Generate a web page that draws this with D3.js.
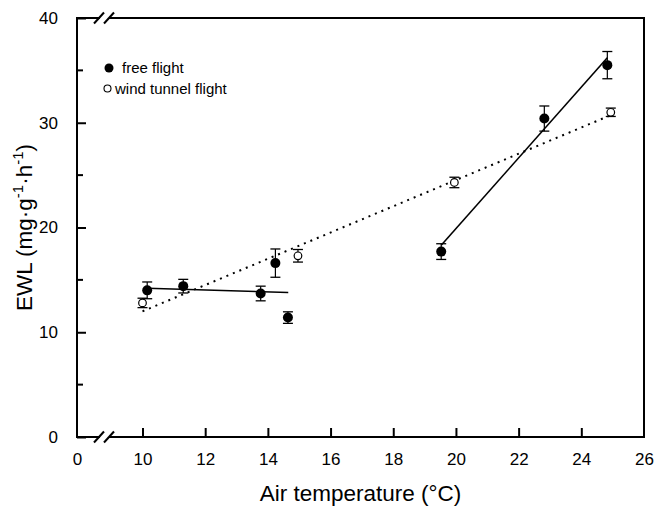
<!DOCTYPE html>
<html>
<head>
<meta charset="utf-8">
<script src="https://cdn.jsdelivr.net/npm/d3@7"></script>
<style>
  body { margin: 0; background: #fff; }
  svg { font-family: "Liberation Sans", Arial, sans-serif; }
  .axis text { font-size: 17px; fill: #000; }
  .axis line { stroke: #000; stroke-width: 2; }
  .label { font-size: 22.5px; fill: #000; }
</style>
</head>
<body>
<script>
// Data
var freeTemp = [10.15, 11.3, 13.77, 14.24, 14.64, 19.53, 22.82, 24.83];
var freeEWL  = [14.0, 14.4, 13.7, 16.6, 11.4, 17.7, 30.4, 35.5];
var freeErr  = [0.8, 0.65, 0.7, 1.35, 0.55, 0.75, 1.2, 1.3];

var tunnelTemp = [10.0, 14.96, 19.95, 24.94];
var tunnelEWL  = [12.8, 17.3, 24.3, 31.0];
var tunnelErr  = [0.45, 0.6, 0.5, 0.4];

// regression line end points
var fitLowTemp = [10.15, 14.65], fitLowEWL = [14.2, 13.8];
var fitHighTemp = [19.53, 24.83], fitHighEWL = [18.3, 36.2];
var fitTunnelTemp = [10.0, 25.0], fitTunnelEWL = [12.0, 30.8];

var xTicks = [0, 10, 12, 14, 16, 18, 20, 22, 24, 26];
var yTicks = [0, 10, 20, 30, 40];
var yMinor = [5, 15, 25, 35];

var margin = {top: 18, right: 11, bottom: 70, left: 77},
    width = 655 - margin.left - margin.right,
    height = 507 - margin.top - margin.bottom;

// broken x axis: 0 then jump to 10
var xScale = d3.scaleLinear().domain([0, 10, 26]).range([0, 65.5, width]);
var yScale = d3.scaleLinear().domain([0, 40]).range([height, 0]);

var svg = d3.select("body").append("svg")
    .attr("width", 655)
    .attr("height", 507)
  .append("g")
    .attr("transform", "translate(" + margin.left + "," + margin.top + ")");

// frame
svg.append("rect")
    .attr("width", width)
    .attr("height", height)
    .attr("fill", "none")
    .attr("stroke", "#000")
    .attr("stroke-width", 2);

var xAxis = d3.axisBottom(xScale)
    .tickValues(xTicks)
    .tickSizeInner(-9)
    .tickSizeOuter(0)
    .tickPadding(16)
    .tickFormat(d3.format("d"));

var yAxis = d3.axisLeft(yScale)
    .tickValues(yTicks)
    .tickSizeInner(-9)
    .tickSizeOuter(0)
    .tickPadding(19);

var gx = svg.append("g")
    .attr("class", "axis")
    .attr("transform", "translate(0," + height + ")")
    .call(xAxis);
gx.select(".domain").remove();
gx.selectAll(".tick line").filter(function(d) { return d === 0 || d === 26; }).remove();

var gy = svg.append("g")
    .attr("class", "axis")
    .call(yAxis);
gy.select(".domain").remove();

// minor y ticks
svg.selectAll(".minor")
    .data(yMinor)
  .enter().append("line")
    .attr("x1", 0)
    .attr("x2", 6)
    .attr("y1", function(d) { return yScale(d); })
    .attr("y2", function(d) { return yScale(d); })
    .attr("stroke", "#000")
    .attr("stroke-width", 2);

// axis breaks on top and bottom
[0, height].forEach(function(yy) {
  svg.append("rect")
      .attr("x", 23)
      .attr("y", yy - 2)
      .attr("width", 9)
      .attr("height", 4)
      .attr("fill", "#fff");
  [22, 32].forEach(function(xx) {
    svg.append("line")
        .attr("x1", xx - 5)
        .attr("y1", yy + 5.5)
        .attr("x2", xx + 5)
        .attr("y2", yy - 5.5)
        .attr("stroke", "#000")
        .attr("stroke-width", 2);
  });
});

// regression lines
var line = d3.line()
    .x(function(d) { return xScale(d[0]); })
    .y(function(d) { return yScale(d[1]); });

svg.append("path")
    .datum(d3.zip(fitTunnelTemp, fitTunnelEWL))
    .attr("d", line)
    .attr("fill", "none")
    .attr("stroke", "#000")
    .attr("stroke-width", 2)
    .attr("stroke-dasharray", "2,5");

[[fitLowTemp, fitLowEWL], [fitHighTemp, fitHighEWL]].forEach(function(f) {
  svg.append("path")
      .datum(d3.zip(f[0], f[1]))
      .attr("d", line)
      .attr("fill", "none")
      .attr("stroke", "#000")
      .attr("stroke-width", 1.6);
});

// error bars
function errorBars(temps, vals, errs) {
  var data = d3.zip(temps, vals, errs);
  var g = svg.append("g")
      .attr("stroke", "#000");
  g.selectAll(".bar")
      .data(data)
    .enter().append("line")
      .attr("x1", function(d) { return xScale(d[0]); })
      .attr("x2", function(d) { return xScale(d[0]); })
      .attr("y1", function(d) { return yScale(d[1] + d[2]); })
      .attr("y2", function(d) { return yScale(d[1] - d[2]); })
      .attr("stroke-width", 1.2);
  data.forEach(function(d) {
    [d[1] + d[2], d[1] - d[2]].forEach(function(v) {
      g.append("line")
          .attr("x1", xScale(d[0]) - 5)
          .attr("x2", xScale(d[0]) + 5)
          .attr("y1", yScale(v))
          .attr("y2", yScale(v))
          .attr("stroke-width", 1.3);
    });
  });
}
errorBars(tunnelTemp, tunnelEWL, tunnelErr);
errorBars(freeTemp, freeEWL, freeErr);

// points
svg.selectAll(".tunnel")
    .data(d3.zip(tunnelTemp, tunnelEWL))
  .enter().append("circle")
    .attr("cx", function(d) { return xScale(d[0]); })
    .attr("cy", function(d) { return yScale(d[1]); })
    .attr("r", 3.8)
    .attr("fill", "#fff")
    .attr("stroke", "#000")
    .attr("stroke-width", 1.2);

svg.selectAll(".free")
    .data(d3.zip(freeTemp, freeEWL))
  .enter().append("circle")
    .attr("cx", function(d) { return xScale(d[0]); })
    .attr("cy", function(d) { return yScale(d[1]); })
    .attr("r", 5)
    .attr("fill", "#000");

// legend
var legend = svg.append("g")
    .attr("transform", "translate(32,50)");
legend.append("circle")
    .attr("cx", 0)
    .attr("cy", 0)
    .attr("r", 4.5)
    .attr("fill", "#000");
legend.append("text")
    .attr("x", 13)
    .attr("y", 5)
    .style("font-size", "15px")
    .text("free flight");
legend.append("circle")
    .attr("cx", -1.5)
    .attr("cy", 20.5)
    .attr("r", 3.5)
    .attr("fill", "#fff")
    .attr("stroke", "#000")
    .attr("stroke-width", 1.1);
legend.append("text")
    .attr("x", 6)
    .attr("y", 25.5)
    .style("font-size", "15px")
    .text("wind tunnel flight");

// axis titles
svg.append("text")
    .attr("class", "label")
    .attr("x", width / 2)
    .attr("y", height + 64)
    .style("text-anchor", "middle")
    .text("Air temperature (°C)");

var yl = svg.append("text")
    .attr("class", "label")
    .attr("transform", "translate(-45," + (height / 2) + ") rotate(-90)")
    .style("text-anchor", "middle");
yl.append("tspan").text("EWL (mg·g");
yl.append("tspan").attr("dy", -9).style("font-size", "15px").text("-1");
yl.append("tspan").attr("dy", 9).text("·h");
yl.append("tspan").attr("dy", -9).style("font-size", "15px").text("-1");
yl.append("tspan").attr("dy", 9).text(")");
</script>
</body>
</html>
